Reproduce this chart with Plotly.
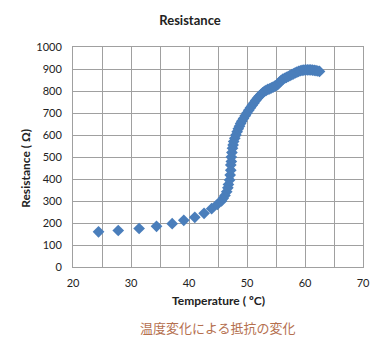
import plotly.graph_objects as go

temperature = [24.4, 27.8, 31.4, 34.4, 37.1, 39.1, 41.0, 42.6, 43.9, 44.9, 45.6, 45.9,
               46.2, 46.5, 46.7, 46.8, 47.0, 47.1, 47.2, 47.2, 47.3, 47.3, 47.4, 47.5,
               47.6, 47.7, 47.9, 48.1, 48.3, 48.5, 48.7, 48.9, 49.1, 49.4, 49.7, 50.0,
               50.3, 50.6, 50.9, 51.2, 51.5, 51.8, 52.1, 52.4, 52.7, 53.0, 53.3, 53.6,
               53.9, 54.2, 54.5, 54.8, 55.1, 55.4, 55.6, 55.9, 56.2, 56.5, 56.8, 57.1,
               57.4, 57.7, 58.0, 58.3, 58.6, 58.9, 59.2, 59.5, 59.8, 60.1, 60.4, 60.7,
               61.0, 61.3, 61.6, 61.9, 62.2, 62.5]
resistance = [160, 166, 175, 185, 197, 212, 226, 244, 265, 285, 300, 312,
              325, 342, 360, 375, 395, 418, 440, 464, 480, 500, 520, 540,
              555, 570, 585, 600, 615, 628, 640, 652, 663, 675, 688, 700,
              712, 724, 735, 746, 757, 767, 776, 784, 792, 798, 803, 807,
              810, 814, 818, 822, 826, 832, 840, 848, 854, 858, 862, 866,
              870, 874, 878, 882, 886, 889, 892, 894, 895, 896, 896, 896,
              896, 895, 894, 893, 891, 889]

title_text = "Resistance"
x_title = "Temperature ( ºC)"
y_title = "Resistance ( Ω)"
caption = "温度変化による抵抗の変化"

FONT = "Lato, 'Noto Sans CJK JP', sans-serif"
GRID = "#a0a0a0"

fig = go.Figure(go.Scatter(
    x=temperature, y=resistance, mode="markers",
    marker=dict(symbol="diamond", size=9, color="#4a7ebb", line=dict(width=0)),
))

W, H = 384, 350
fig.update_layout(
    width=W, height=H,
    margin=dict(l=65, r=29, t=39, b=91),
    paper_bgcolor="white", plot_bgcolor="white",
    showlegend=False,
    font=dict(family=FONT, size=11, color="#222"),
    title=dict(text="<b>" + title_text + "</b>", x=182 / W, xref="container",
               y=1 - 12 / H, yref="container", yanchor="middle", xanchor="center",
               font=dict(size=13, color="#222", family=FONT)),
    xaxis=dict(range=[20, 70], dtick=10, tick0=20, showgrid=True, gridcolor=GRID,
               gridwidth=1, minor=dict(dtick=5, showgrid=True, gridcolor=GRID, gridwidth=1),
               showline=True, linecolor=GRID, linewidth=1, mirror=True, zeroline=False,
               ticks="", ticklabelstandoff=6, tickfont=dict(size=11)),
    yaxis=dict(range=[0, 1000], dtick=100, showgrid=True, gridcolor=GRID, gridwidth=1,
               showline=True, linecolor=GRID, linewidth=1, mirror=True, zeroline=False,
               ticks="", ticklabelstandoff=8, tickfont=dict(size=11)),
    annotations=[
        dict(text="<b>" + x_title + "</b>", xref="paper", yref="paper", x=0.5, y=-0.15,
             showarrow=False, xanchor="center", yanchor="middle", font=dict(size=12)),
        dict(text="<b>" + y_title + "</b>", xref="paper", yref="paper", x=-0.166, y=0.45,
             showarrow=False, xanchor="center", yanchor="middle", textangle=-90,
             font=dict(size=12)),
        dict(text=caption, xref="paper", yref="paper", x=0.5, y=-0.273,
             showarrow=False, xanchor="center", yanchor="middle",
             font=dict(size=13, color="#b5704f", family="'Noto Sans CJK JP', sans-serif")),
    ],
)

fig.write_html("out.html")
